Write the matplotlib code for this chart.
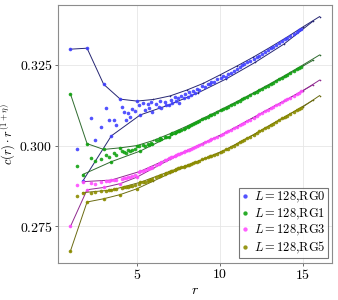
import numpy as np
import matplotlib
matplotlib.use("Agg")
import matplotlib.pyplot as plt

plt.rcParams['mathtext.fontset'] = 'cm'
plt.rcParams['font.family'] = 'serif'
plt.rcParams['font.serif'] = ['cmr10', 'DejaVu Serif']

labels = [r'$L = 128$,$\mathrm{RG0}$', r'$L = 128$,$\mathrm{RG1}$',
          r'$L = 128$,$\mathrm{RG3}$', r'$L = 128$,$\mathrm{RG5}$']
dot_colors = ['#4040ff', '#13a313', '#ff4dff', '#8c8c00']
line_colors = ['#262673', '#2f6b2f', '#8f2a8f', '#6b6b12']

xticks = [5, 10, 15]
yticks = [0.275, 0.300, 0.325]

# points along the lattice axis
r_axis = [1, 2, 3, 4, 5, 6, 7, 8, 9, 10, 11, 12, 13, 14, 15, 16]
axis_rg0 = [.3299, .3302, .3190, .3144, .3138, .3143, .3154, .3172, .3193, .3219, .3246, .3274, .3304, .3335, .3368, .3400]
axis_rg1 = [.3160, .3006, .2988, .2993, .3000, .3016, .3037, .3060, .3085, .3110, .3136, .3163, .3191, .3220, .3250, .3281]
axis_rg3 = [.2749, .2863, .2870, .2882, .2902, .2930, .2957, .2982, .3006, .3031, .3058, .3086, .3115, .3142, .3170, .3203]
axis_rg5 = [.2673, .2825, .2835, .2848, .2866, .2890, .2914, .2936, .2957, .2978, .3005, .3033, .3063, .3092, .3120, .3155]

# points along the body diagonal
r_diag = [1.73, 3.46, 5.20, 6.93, 8.66, 10.39, 12.12, 13.86, 15.59]
diag_rg0 = [.2889, .3030, .3095, .3126, .3163, .3207, .3258, .3315, .3385]
diag_rg1 = [.2910, .2950, .2983, .3027, .3072, .3117, .3164, .3213, .3264]
diag_rg3 = [.2888, .2893, .2920, .2960, .3000, .3041, .3090, .3138, .3188]
diag_rg5 = [.2854, .2862, .2886, .2919, .2951, .2988, .3036, .3087, .3140]

# all distances (scatter)
r_all = [1, 1.41, 1.73, 2, 2.24, 2.45, 2.83, 3, 3.16, 3.32, 3.46, 3.61, 3.74, 4, 4.12, 4.24,
         4.36, 4.47, 4.58, 4.69, 4.90, 5,
         5.10, 5.20, 5.39, 5.48, 5.66, 5.74, 5.83, 5.92, 6.16, 6.32, 6.40, 6.48, 6.71, 6.78,
         6.93, 7.07, 7.14, 7.28, 7.35, 7.48, 7.55, 7.68, 7.81, 7.87, 8.06, 8.12, 8.25, 8.37,
         8.49, 8.60, 8.77, 8.94, 9.11, 9.27, 9.43, 9.49, 9.64, 9.85, 10.05, 10.20, 10.39, 10.49,
         10.68, 10.82, 11.00, 11.18, 11.36, 11.45, 11.66, 11.79, 12.04, 12.21, 12.37, 12.53,
         12.73, 12.88, 13.08, 13.19, 13.38, 13.56, 13.75, 13.93, 14.07, 14.25, 14.46, 14.63,
         14.76, 14.90]
all_rg0 = [.3299, .2988, .2889, .3302, .3087, .3017, .3057, .3190, .3115, .3079, .3030, .3079,
           .3064, .3144, .3120, .3105, .3079, .3100, .3090, .3112, .3108, .3138,
           .3125, .3095, .3132, .3110, .3128, .3118, .3135, .3104, .3130, .3120, .3138, .3115,
           .3134, .3125, .3126, .3142, .3133, .3150, .3138, .3146, .3132, .3155, .3147, .3160,
           .3152, .3165, .3158, .3170, .3162, .3176, .3172, .3185, .3182, .3192, .3190, .3198,
           .3196, .3207, .3210, .3216, .3212, .3222, .3226, .3232, .3238, .3243, .3250, .3252,
           .3260, .3263, .3269, .3275, .3279, .3285, .3291, .3296, .3302, .3305, .3312, .3318,
           .3324, .3330, .3334, .3340, .3347, .3353, .3358, .3363]
all_rg1 = [.3160, .2937, .2910, .3006, .2961, .2952, .2958, .2988, .2972, .2966, .2950, .2976,
           .2970, .2993, .2984, .2979, .2976, .2986, .2982, .2985, .2990, .3000,
           .3000, .2983, .3002, .2998, .3006, .3003, .3009, .3006, .3016, .3018, .3022, .3020,
           .3027, .3028, .3027, .3036, .3038, .3040, .3042, .3045, .3046, .3049, .3052, .3053,
           .3059, .3060, .3063, .3066, .3070, .3072, .3077, .3081, .3086, .3090, .3094, .3096,
           .3099, .3104, .3109, .3113, .3117, .3120, .3125, .3129, .3134, .3139, .3144, .3146,
           .3152, .3156, .3162, .3167, .3171, .3176, .3181, .3186, .3191, .3194, .3200, .3205,
           .3210, .3215, .3219, .3225, .3231, .3236, .3240, .3244]
all_rg3 = [.2749, .2879, .2888, .2863, .2885, .2882, .2887, .2870, .2889, .2890, .2893, .2893,
           .2894, .2882, .2897, .2898, .2900, .2902, .2903, .2905, .2909, .2902,
           .2917, .2920, .2921, .2924, .2927, .2929, .2931, .2933, .2941, .2944, .2946, .2948,
           .2954, .2955, .2960, .2963, .2965, .2968, .2970, .2973, .2974, .2977, .2980, .2982,
           .2985, .2987, .2990, .2993, .2995, .2998, .3002, .3006, .3010, .3013, .3017, .3019,
           .3022, .3027, .3032, .3036, .3041, .3044, .3049, .3053, .3058, .3063, .3068, .3071,
           .3077, .3080, .3087, .3092, .3097, .3101, .3107, .3111, .3117, .3120, .3125, .3130,
           .3135, .3140, .3144, .3149, .3155, .3160, .3164, .3168]
all_rg5 = [.2673, .2844, .2854, .2825, .2852, .2855, .2858, .2835, .2860, .2862, .2862, .2865,
           .2866, .2848, .2868, .2870, .2871, .2873, .2874, .2876, .2879, .2866,
           .2882, .2886, .2886, .2888, .2891, .2893, .2894, .2896, .2902, .2905, .2907, .2908,
           .2913, .2915, .2919, .2920, .2922, .2925, .2926, .2929, .2930, .2932, .2935, .2936,
           .2939, .2941, .2943, .2946, .2948, .2950, .2953, .2957, .2960, .2963, .2967, .2968,
           .2971, .2975, .2979, .2983, .2988, .2990, .2995, .2999, .3005, .3010, .3015, .3017,
           .3023, .3027, .3034, .3039, .3044, .3048, .3054, .3059, .3065, .3068, .3073, .3078,
           .3084, .3089, .3093, .3098, .3104, .3109, .3113, .3117]

axis_vals = [axis_rg0, axis_rg1, axis_rg3, axis_rg5]
diag_vals = [diag_rg0, diag_rg1, diag_rg3, diag_rg5]
all_vals = [all_rg0, all_rg1, all_rg3, all_rg5]

fig = plt.figure(figsize=(3.38, 3.0), dpi=100)
ax = fig.add_axes([58 / 338, 37.4 / 300, 274 / 338, 257.6 / 300])

for k in range(4):
    ax.plot(r_axis, axis_vals[k], '-o', color=line_colors[k], lw=0.7, ms=1.2, mew=0)
    ax.plot(r_diag, diag_vals[k], '-o', color=line_colors[k], lw=0.7, ms=1.2, mew=0)
    ax.plot(r_all, all_vals[k], 'o', color=dot_colors[k], ms=2.6, mew=0, alpha=0.9,
            label=labels[k])

ax.set_xlim(0.25, 16.75)
ax.set_ylim(0.2637, 0.3436)
ax.set_xticks(xticks, ['$%d$' % t for t in xticks])
ax.set_yticks(yticks, ['$%.3f$' % t for t in yticks])
ax.tick_params(labelsize=10, length=2.5, width=0.6, color='#555555', pad=1.5)
ax.grid(True, color='#e6e6e6', lw=0.6)
ax.set_axisbelow(True)
for s in ax.spines.values():
    s.set_color('#8c8c8c')
    s.set_linewidth(0.8)

ax.set_xlabel('$r$', fontsize=10, labelpad=2)
ax.set_ylabel(r'$c(r) \cdot r^{(1+\eta)}$', fontsize=9, labelpad=1)

leg = ax.legend(loc='lower right', fontsize=9, frameon=True, fancybox=False,
                handlelength=0.6, handletextpad=0.4, borderpad=0.2, labelspacing=0.1,
                borderaxespad=0.35, markerscale=1.2)
leg.get_frame().set_edgecolor('#555555')
leg.get_frame().set_linewidth(0.8)

fig.savefig('out.png', dpi=100)
